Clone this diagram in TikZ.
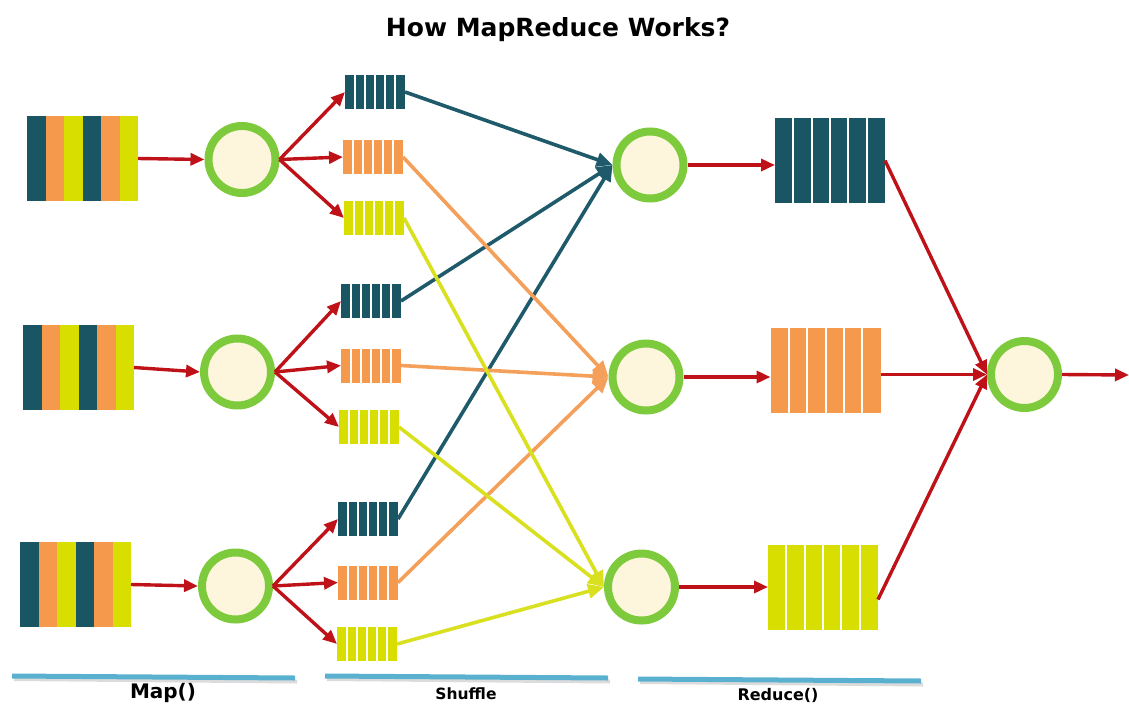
\documentclass[tikz,border=0pt]{standalone}
\usepackage{fontspec}
\setmainfont{Liberation Sans}
\newfontfamily\titlefont{DejaVu Sans}
\usetikzlibrary{arrows.meta}
\definecolor{cteal}{HTML}{1A5563}
\definecolor{corange}{HTML}{F59A4D}
\definecolor{cyellow}{HTML}{D8DF00}
\definecolor{cgreen}{HTML}{7DCB3C}
\definecolor{ccream}{HTML}{FDF5DC}
\definecolor{cred}{HTML}{BE1118}
\definecolor{cblue}{HTML}{5AB0CF}
\definecolor{lteal}{HTML}{1F5A6A}
\definecolor{lorange}{HTML}{F4A05A}
\definecolor{lyellow}{HTML}{D8E020}
\tikzset{
  inblock/.style={rectangle, minimum width=111pt, minimum height=85pt, inner sep=0pt, outer sep=0pt,
    path picture={
      \foreach \c [count=\i from 0] in {cteal,corange,cyellow,cteal,corange,cyellow}
        \fill[\c] ([xshift=\i*18.5pt]path picture bounding box.north west) rectangle ([xshift=\i*18.5pt+18.6pt]path picture bounding box.south west);
    }},
  smallbox/.style={rectangle, fill=#1, minimum width=60pt, minimum height=34pt, inner sep=0pt, outer sep=0pt,
    path picture={
      \foreach \i in {1,...,5}
        \draw[white, line width=1.6pt] ([xshift=\i*10pt]path picture bounding box.north west) -- ([xshift=\i*10pt]path picture bounding box.south west);
    }},
  bigbox/.style={rectangle, fill=#1, minimum width=110pt, minimum height=85pt, inner sep=0pt, outer sep=0pt,
    path picture={
      \foreach \i in {1,...,5}
        \draw[white, line width=2pt] ([xshift=\i*18.333pt]path picture bounding box.north west) -- ([xshift=\i*18.333pt]path picture bounding box.south west);
    }},
  ring/.style={circle, draw=cgreen, line width=8pt, fill=ccream, minimum size=67pt, inner sep=0pt},
  redarrow/.style={draw=cred, line width=3.4pt, -{Triangle[length=14pt,width=12pt]}},
  shuf/.style={draw=#1, line width=3.6pt, -{Triangle[length=16pt,width=14pt]}},
  baseline/.style={line width=5pt, cblue},
  baseshadow/.style={line width=4pt, black!35, opacity=0.4},
  lbl/.style={font=\titlefont\bfseries\fontsize{#1}{#1}\selectfont, inner sep=0pt}
}
\begin{document}
\begin{tikzpicture}[x=1pt,y=-1pt]
\useasboundingbox (0,0) rectangle (1129,704);

% title
\node[font=\titlefont\bfseries\fontsize{25}{25}\selectfont, inner sep=0pt] (title) at (558,30) {How MapReduce Works?};

% input blocks
\node[inblock] (in1) at (82.5,158.5) {};
\node[inblock] (in2) at (78.5,367.5) {};
\node[inblock] (in3) at (75.5,584.5) {};

% map circles
\node[ring] (m1) at (242,159.5) {};
\node[ring] (m2) at (237.5,372) {};
\node[ring] (m3) at (235.5,586) {};

% small boxes
\node[smallbox=cteal]   (t1) at (375,92) {};
\node[smallbox=corange] (o1) at (373,157) {};
\node[smallbox=cyellow] (y1) at (374,218) {};
\node[smallbox=cteal]   (t2) at (371,301) {};
\node[smallbox=corange] (o2) at (371,365.5) {};
\node[smallbox=cyellow] (y2) at (369,427) {};
\node[smallbox=cteal]   (t3) at (368,519) {};
\node[smallbox=corange] (o3) at (368,582.5) {};
\node[smallbox=cyellow] (y3) at (367,644) {};

% reduce circles
\node[ring] (r1) at (650,165) {};
\node[ring] (r2) at (646,377) {};
\node[ring] (r3) at (641.5,587) {};

% big boxes
\node[bigbox=cteal]   (R1) at (830,160.5) {};
\node[bigbox=corange] (R2) at (825.5,370) {};
\node[bigbox=cyellow] (R3) at (823,587.5) {};

% final circle
\node[ring] (f) at (1024.5,374.5) {};
\coordinate (out) at (1129,375);

% input -> map
\draw[redarrow] (in1.east) -- (m1.west);
\draw[redarrow] (in2.east) -- (m2.west);
\draw[redarrow] (in3.east) -- (m3.west);

% map -> small boxes
\foreach \m/\a/\b/\c in {m1/t1/o1/y1, m2/t2/o2/y2, m3/t3/o3/y3}{
  \draw[redarrow] (\m.east) -- (\a.west);
  \draw[redarrow] (\m.east) -- (\b.west);
  \draw[redarrow] (\m.east) -- (\c.west);
}

% shuffle
\draw[shuf=lteal] (t1.east) -- (r1.west);
\draw[shuf=lteal] (t2.east) -- (r1.west);
\draw[shuf=lteal] (t3.east) -- (r1.west);
\draw[shuf=lorange] (o1.east) -- (r2.west);
\draw[shuf=lorange] (o2.east) -- (r2.west);
\draw[shuf=lorange] (o3.east) -- (r2.west);
\draw[shuf=lyellow] (y1.east) -- (r3.west);
\draw[shuf=lyellow] (y2.east) -- (r3.west);
\draw[shuf=lyellow] (y3.east) -- (r3.west);

% reduce -> big boxes
\draw[redarrow] (r1.east) -- (r1.east -| R1.west);
\draw[redarrow] (r2.east) -- (r2.east -| R2.west);
\draw[redarrow] (r3.east) -- (r3.east -| R3.west);

% big boxes -> final
\draw[redarrow] (R1.east) -- (f.west);
\draw[redarrow] (R2.east |- f.west) -- (f.west);
\draw[redarrow] ([yshift=-12pt]R3.east) -- (f.west);
\draw[redarrow] (f.east) -- (out);

% bottom lines
\draw[baseshadow] (14,679) -- (297,681.5);
\draw[baseline] (12,676) -- (295,678);
\draw[baseshadow] (327,679) -- (610,681.5);
\draw[baseline] (325,676) -- (608,678);
\draw[baseshadow] (640,682) -- (923,684.5);
\draw[baseline] (638,679) -- (921,681);

% labels
\node[lbl=20] (lmap) at (163,693) {Map()};
\node[lbl=15.5] (lshuf) at (466,694) {Shuffle};
\node[lbl=16] (lred) at (778,695) {Reduce()};
\end{tikzpicture}
\end{document}
